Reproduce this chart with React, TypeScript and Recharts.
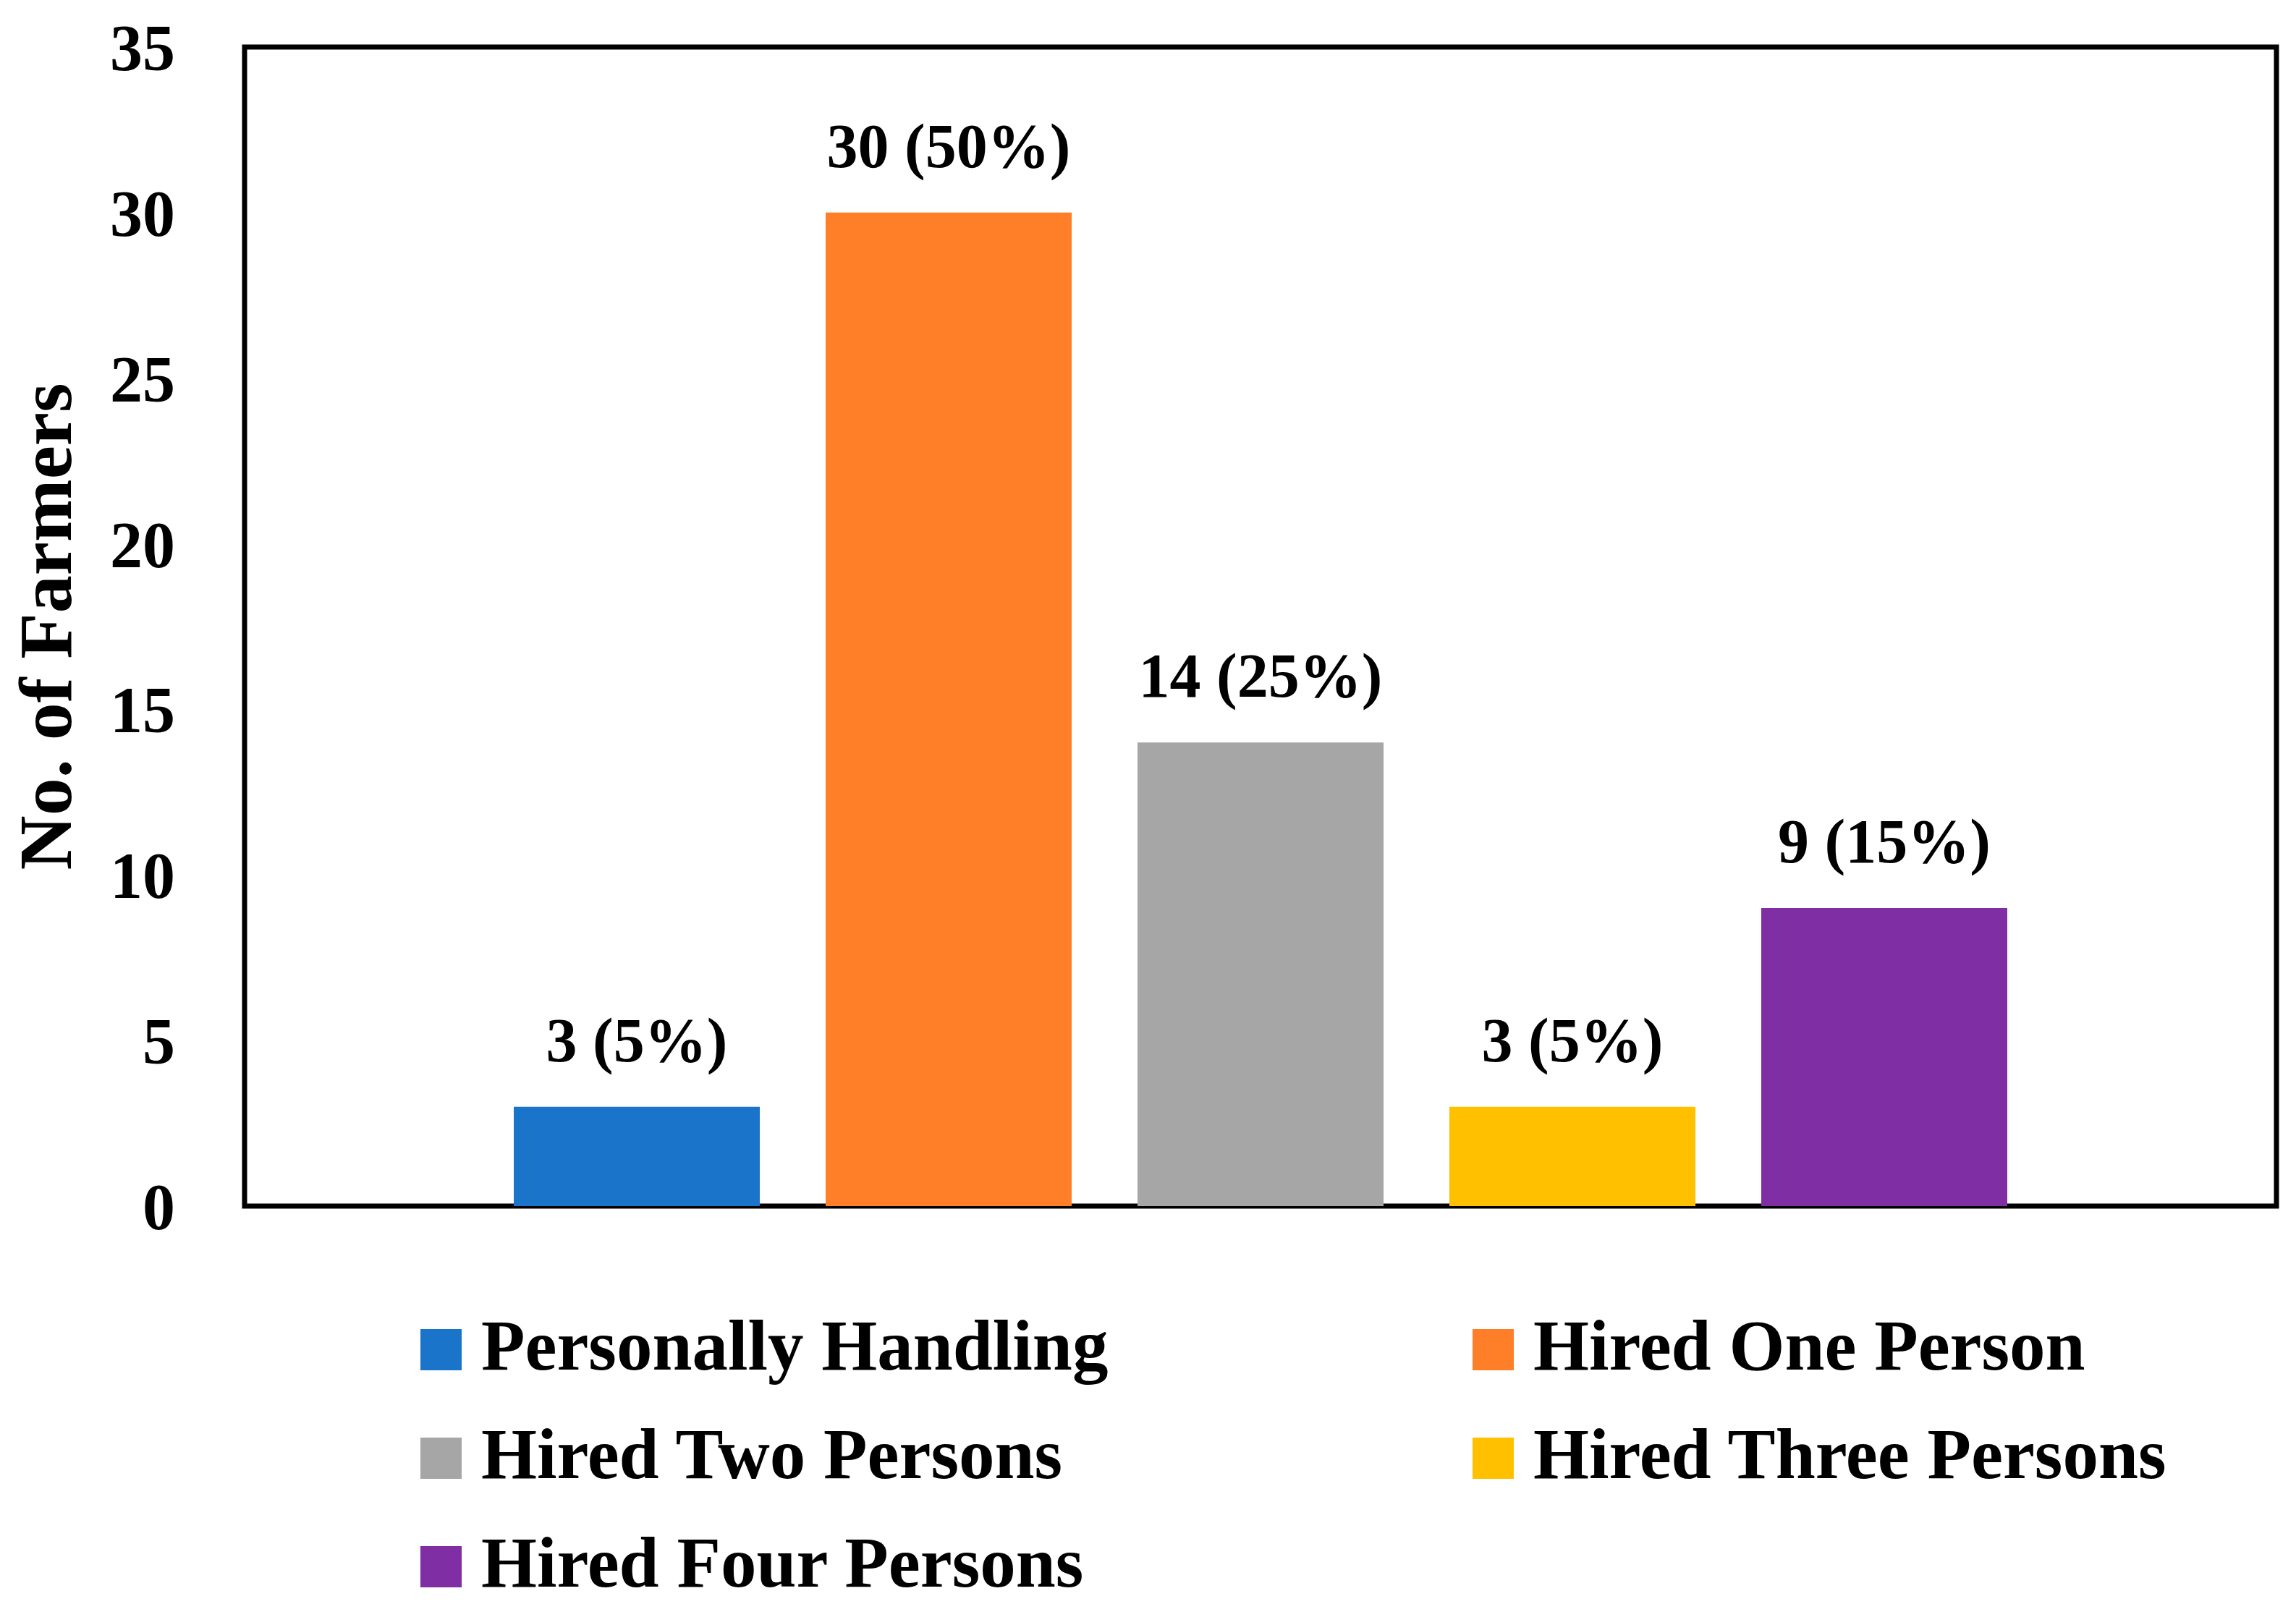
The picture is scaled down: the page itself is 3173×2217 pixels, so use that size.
import { BarChart, Bar, XAxis, YAxis, ReferenceArea, LabelList } from "recharts";

const seriesNames = [
  "Personally Handling",
  "Hired One Person",
  "Hired Two Persons",
  "Hired Three Persons",
  "Hired Four Persons",
];
const farmerCounts = [3, 30, 14, 3, 9];
const farmerPercents = [5, 50, 25, 5, 15];
const seriesColors = ["#1A74CA", "#FE7F28", "#A6A6A6", "#FFC000", "#7F2EA3"];
const yTicks = [0, 5, 10, 15, 20, 25, 30, 35];

const FONT = '"Liberation Serif", "Times New Roman", serif';

// one category, one series per group (like the excel clustered column)
const row: Record<string, any> = { name: "" };
seriesNames.forEach((_, i) => {
  row[`s${i}`] = farmerCounts[i];
});
const data = [row];

// legend grid: 2 columns, rows top to bottom
const legendCols = [581, 2035];
const legendRows = [1837, 1987, 2137];

function YTitle({ viewBox }: any) {
  const x = viewBox.x + 62;
  const y = viewBox.y + viewBox.height / 2;
  return (
    <text
      x={x}
      y={y}
      dy="0.35em"
      transform={`rotate(-90, ${x}, ${y})`}
      textAnchor="middle"
      fontFamily={FONT}
      fontWeight="bold"
      fontSize={104}
      fill="#000"
    >
      No. of Farmers
    </text>
  );
}

export default function App() {
  return (
    <div style={{ position: "absolute", left: 0, top: 0, width: 3173, height: 2217, background: "#fff" }}>
      <BarChart
        width={3173}
        height={2217}
        data={data}
        margin={{ top: 65, right: 27, bottom: 550, left: 0 }}
        barGap={91}
      >
        <XAxis dataKey="name" hide />
        <YAxis
          width={338}
          domain={[0, 35]}
          ticks={yTicks}
          axisLine={false}
          tickLine={false}
          tickSize={0}
          tickMargin={96}
          tick={{ fontFamily: FONT, fontWeight: "bold", fontSize: 90, fill: "#000" }}
          label={<YTitle />}
        />
        {seriesNames.map((name, i) => (
          <Bar
            key={name}
            dataKey={`s${i}`}
            name={name}
            fill={seriesColors[i]}
            barSize={340}
            isAnimationActive={false}
          >
            <LabelList
              dataKey={`s${i}`}
              position="top"
              offset={63}
              formatter={(v: any) => `${v} (${farmerPercents[i]}%)`}
              style={{ fontFamily: FONT, fontWeight: "bold", fontSize: 86, fill: "#000" }}
            />
          </Bar>
        ))}
        <ReferenceArea y1={0} y2={35} stroke="#000" strokeWidth={7} fill="none" fillOpacity={0} ifOverflow="visible" />
      </BarChart>

      <svg
        width={3173}
        height={2217}
        style={{ position: "absolute", left: 0, top: 0, pointerEvents: "none" }}
      >
        {seriesNames.map((name, i) => {
          const x = legendCols[i % 2];
          const y = legendRows[Math.floor(i / 2)];
          return (
            <g key={name}>
              <rect x={x} y={y} width={57} height={57} fill={seriesColors[i]} />
              <text
                x={x + 84}
                y={y + 56}
                fontFamily={FONT}
                fontWeight="bold"
                fontSize={99}
                fill="#000"
              >
                {name}
              </text>
            </g>
          );
        })}
      </svg>
    </div>
  );
}
